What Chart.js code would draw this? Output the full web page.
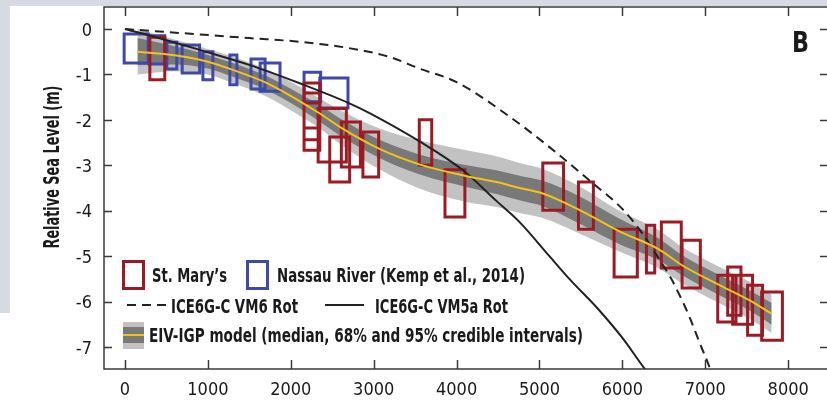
<!DOCTYPE html>
<html>
<head>
<meta charset="utf-8">
<script src="https://cdn.jsdelivr.net/npm/chart.js@4.4.1/dist/chart.umd.min.js"></script>
<style>
  html, body { margin: 0; padding: 0; background: #fff; overflow: hidden; width: 827px; height: 404px; }
  #frameTop  { position: absolute; left: 0; top: 0; width: 827px; height: 6px; background: #d6dbe3; }
  #frameLeft { position: absolute; left: 0; top: 0; width: 10px; height: 313px; background: #d6dbe3; }
  #wrap { position: absolute; left: 0; top: 0; width: 832px; height: 404px; }
</style>
</head>
<body>
<div id="frameTop"></div>
<div id="frameLeft"></div>
<div id="wrap"><canvas id="chart" width="832" height="404"></canvas></div>
<script>
// Panell B: nivell relatiu del mar (m) vs edat (anys)

// ── Dades ────────────────────────────────────────────────────────────────────
const xTickValues = [0, 1000, 2000, 3000, 4000, 5000, 6000, 7000, 8000];
const yTickValues = [-7, -6, -5, -4, -3, -2, -1, 0];

// EIV-IGP: mediana i intervals creïbles del 68% i 95%
const modelAge    = [150, 600, 1000, 1300, 1700, 2100, 2350, 2630, 3070, 3550, 4120, 4480, 4760, 5040, 5480, 5960, 6440, 6720, 7130, 7530, 7800];
const modelMedian = [-0.50, -0.58, -0.72, -0.90, -1.18, -1.58, -1.86, -2.20, -2.64, -2.98, -3.24, -3.37, -3.50, -3.62, -3.98, -4.45, -4.85, -5.20, -5.60, -5.97, -6.27];
const modelHi68   = [-0.20, -0.38, -0.57, -0.75, -1.03, -1.42, -1.68, -2.01, -2.44, -2.76, -3.00, -3.11, -3.23, -3.34, -3.68, -4.17, -4.61, -4.98, -5.38, -5.75, -6.03];
const modelLo68   = [-0.80, -0.78, -0.87, -1.05, -1.33, -1.74, -2.04, -2.39, -2.84, -3.20, -3.48, -3.63, -3.77, -3.90, -4.28, -4.73, -5.09, -5.42, -5.82, -6.19, -6.51];
const modelHi95   = [ 0.00, -0.23, -0.44, -0.61, -0.88, -1.26, -1.53, -1.82, -2.19, -2.45, -2.67, -2.80, -2.95, -3.08, -3.46, -4.00, -4.43, -4.80, -5.20, -5.56, -5.85];
const modelLo95   = [-1.00, -0.93, -1.00, -1.19, -1.48, -1.90, -2.19, -2.58, -3.09, -3.51, -3.81, -3.92, -4.05, -4.16, -4.50, -4.90, -5.27, -5.60, -6.00, -6.38, -6.69];

// Models GIA
const vm6Age  = [0, 900, 1500, 2100, 2700, 3200, 3550, 4000, 4640, 5120, 5600, 6020, 6240, 6420, 6590, 6690, 6810, 6930, 7050, 7090];
const vm6Rsl  = [0, -0.12, -0.20, -0.28, -0.42, -0.62, -0.87, -1.17, -1.93, -2.60, -3.33, -4.00, -4.50, -5.00, -5.50, -5.86, -6.34, -6.90, -7.44, -7.65];
const vm5aAge = [0, 450, 900, 1500, 2100, 2700, 2950, 3550, 4070, 4490, 4760, 5120, 5360, 5720, 6000, 6265, 6300];
const vm5aRsl = [0, -0.22, -0.46, -0.79, -1.19, -1.63, -1.85, -2.47, -3.10, -3.80, -4.25, -5.00, -5.50, -6.19, -6.80, -7.47, -7.55];

// Índexs de nivell del mar: [edat mín, edat màx, RSL superior, RSL inferior]
const stMarysBoxes = [
  [300, 480, -0.18, -1.12],
  [2160, 2350, -1.19, -2.18],
  [2160, 2350, -1.41, -2.44],
  [2160, 2350, -1.63, -2.67],
  [2330, 2670, -1.75, -2.93],
  [2470, 2710, -2.38, -3.37],
  [2610, 2840, -2.05, -3.04],
  [2870, 3060, -2.27, -3.26],
  [3550, 3700, -2.00, -3.00],
  [3860, 4100, -3.10, -4.14],
  [5040, 5290, -2.95, -3.99],
  [5470, 5650, -3.37, -4.41],
  [5900, 6180, -4.41, -5.46],
  [6290, 6390, -4.32, -5.37],
  [6470, 6710, -4.25, -5.26],
  [6720, 6940, -4.65, -5.70],
  [7150, 7370, -5.42, -6.45],
  [7270, 7430, -5.24, -6.30],
  [7330, 7570, -5.42, -6.50],
  [7510, 7690, -5.64, -6.74],
  [7680, 7930, -5.79, -6.85],
];
const nassauBoxes = [
  [-10, 280, -0.11, -0.75],
  [290, 480, -0.15, -0.77],
  [505, 625, -0.29, -0.88],
  [690, 900, -0.35, -0.97],
  [940, 1060, -0.50, -1.12],
  [1265, 1350, -0.57, -1.23],
  [1520, 1690, -0.66, -1.32],
  [1630, 1870, -0.75, -1.37],
  [2160, 2360, -0.95, -1.60],
  [2350, 2690, -1.08, -1.74],
];

const legendLabels = [
  "St. Mary\u2019s",
  'Nassau River (Kemp et al., 2014)',
  'ICE6G-C VM6 Rot',
  'ICE6G-C VM5a Rot',
  'EIV-IGP model (median, 68% and 95% credible intervals)',
];
const yTitle = 'Relative Sea Level (m)';
const panelLetter = 'B';

// ── Estil ────────────────────────────────────────────────────────────────────
const FONT = '"Liberation Sans Narrow", "DejaVu Sans Condensed", "Liberation Sans", sans-serif';
const COLORS = {
  red:    '#9b1b24',
  blue:   '#3f49a9',
  light:  '#c2c2c2',
  dark:   '#797979',
  yellow: '#f2c318',
  black:  '#222222',
  axis:   '#3a3a3a',
  text:   '#1a1a1a',
};

const pts = (xs, ys) => xs.map((x, i) => ({ x, y: ys[i] }));

// Cada caixa com a polilínia tancada; y null talla el traç entre caixes
function boxOutlines(boxes) {
  const out = [];
  boxes.forEach(([a0, a1, r0, r1]) => {
    out.push({ x: a0, y: r0 }, { x: a1, y: r0 }, { x: a1, y: r1 }, { x: a0, y: r1 }, { x: a0, y: r0 }, { x: a0, y: null });
  });
  return out;
}

// Text ajustat a una amplada fixa (la font condensada original no hi és)
function fitText(ctx, text, x, y, w, rot) {
  const m = ctx.measureText(text).width;
  ctx.save();
  ctx.translate(x, y);
  if (rot) ctx.rotate(rot);
  ctx.scale(w / m, 1);
  ctx.fillText(text, 0, 0);
  ctx.restore();
}

// ── Marc, marques interiors, llegenda i rètols ──────────────────────────────
const decor = {
  id: 'decor',
  afterDatasetsDraw(chart) {
    const { ctx, chartArea: a, scales: { x, y } } = chart;
    ctx.save();
    ctx.strokeStyle = COLORS.axis;
    ctx.lineWidth = 1.5;
    ctx.strokeRect(a.left, a.top, a.right - a.left, a.bottom - a.top);
    ctx.beginPath();
    x.ticks.forEach(t => {
      const px = Math.round(x.getPixelForValue(t.value)) + 0.5;
      ctx.moveTo(px, a.bottom); ctx.lineTo(px, a.bottom - 9);
      ctx.moveTo(px, a.top);    ctx.lineTo(px, a.top + 9);
    });
    y.ticks.forEach(t => {
      const py = Math.round(y.getPixelForValue(t.value)) + 0.5;
      ctx.moveTo(a.left, py);  ctx.lineTo(a.left + 8, py);
      ctx.moveTo(a.right, py); ctx.lineTo(a.right - 8, py);
    });
    ctx.stroke();

    // Llegenda
    ctx.lineWidth = 3;
    ctx.strokeStyle = COLORS.red;
    ctx.strokeRect(123.5, 261.5, 20, 27);
    ctx.strokeStyle = COLORS.blue;
    ctx.strokeRect(247.5, 261.5, 20, 27);

    ctx.lineWidth = 2;
    ctx.strokeStyle = COLORS.black;
    ctx.setLineDash([9, 6]);
    ctx.beginPath(); ctx.moveTo(127, 305); ctx.lineTo(168, 305); ctx.stroke();
    ctx.setLineDash([]);
    ctx.beginPath(); ctx.moveTo(325, 305); ctx.lineTo(364, 305); ctx.stroke();

    ctx.fillStyle = COLORS.light;  ctx.fillRect(123, 322, 21, 27);
    ctx.fillStyle = COLORS.dark;   ctx.fillRect(123, 327, 21, 16);
    ctx.fillStyle = COLORS.yellow; ctx.fillRect(123, 334, 21, 2);

    ctx.fillStyle = COLORS.text;
    ctx.font = `bold 19px ${FONT}`;
    ctx.textBaseline = 'alphabetic';
    ctx.textAlign = 'left';
    fitText(ctx, legendLabels[0], 152, 282, 75);
    fitText(ctx, legendLabels[1], 277, 282, 248);
    fitText(ctx, legendLabels[2], 171, 313, 127);
    fitText(ctx, legendLabels[3], 375, 313, 133);
    fitText(ctx, legendLabels[4], 149, 342, 434);

    // Títol de l'eix Y i lletra del panell
    ctx.font = `bold 21px ${FONT}`;
    ctx.textAlign = 'center';
    fitText(ctx, yTitle, 59, 167, 163, -Math.PI / 2);
    ctx.font = `bold 28px ${FONT}`;
    ctx.textAlign = 'left';
    fitText(ctx, panelLetter, 792, 52, 17);
    ctx.restore();
  }
};

const tickFont = { family: FONT, size: 18 };

new Chart(document.getElementById('chart'), {
  type: 'line',
  data: {
    datasets: [
      { data: pts(modelAge, modelHi95), fill: '+1', backgroundColor: COLORS.light, borderColor: 'transparent', borderWidth: 0, order: 10 },
      { data: pts(modelAge, modelLo95), fill: false, borderColor: 'transparent', borderWidth: 0, order: 10 },
      { data: pts(modelAge, modelHi68), fill: '+1', backgroundColor: COLORS.dark, borderColor: 'transparent', borderWidth: 0, order: 9 },
      { data: pts(modelAge, modelLo68), fill: false, borderColor: 'transparent', borderWidth: 0, order: 9 },
      { data: boxOutlines(stMarysBoxes), borderColor: COLORS.red, borderWidth: 3, tension: 0, cubicInterpolationMode: 'default', borderJoinStyle: 'miter', borderCapStyle: 'square', order: 6 },
      { data: boxOutlines(nassauBoxes), borderColor: COLORS.blue, borderWidth: 3, tension: 0, cubicInterpolationMode: 'default', borderJoinStyle: 'miter', borderCapStyle: 'square', order: 6 },
      { data: pts(vm6Age, vm6Rsl), borderColor: COLORS.black, borderWidth: 2, borderDash: [9, 6], order: 4 },
      { data: pts(vm5aAge, vm5aRsl), borderColor: COLORS.black, borderWidth: 2, order: 4 },
      { data: pts(modelAge, modelMedian), borderColor: COLORS.yellow, borderWidth: 2, order: 3 },
    ]
  },
  options: {
    responsive: false,
    animation: false,
    devicePixelRatio: 1,
    layout: { padding: { left: 0, right: 4, top: 7, bottom: 0 } },
    elements: {
      point: { radius: 0, hoverRadius: 0 },
      line: { cubicInterpolationMode: 'monotone', fill: false },
    },
    plugins: { legend: { display: false }, tooltip: { enabled: false }, title: { display: false } },
    scales: {
      x: {
        type: 'linear', position: 'bottom', min: -253, max: 8480,
        grid: { display: false, drawTicks: false }, border: { display: false },
        ticks: { autoSkip: false, maxRotation: 0, padding: 11,
                 font: tickFont, color: COLORS.text, callback: v => String(v) },
        afterBuildTicks: s => { s.ticks = xTickValues.map(value => ({ value })); },
        afterFit: s => { s.height = 35; s.paddingLeft = 0; s.paddingRight = 0; },
      },
      y: {
        type: 'linear', position: 'left', min: -7.484, max: 0.484,
        grid: { display: false, drawTicks: false }, border: { display: false },
        ticks: { autoSkip: false, padding: 12, labelOffset: 2,
                 font: tickFont, color: COLORS.text, callback: v => String(v) },
        afterBuildTicks: s => { s.ticks = yTickValues.map(value => ({ value })); },
        afterFit: s => { s.width = 104; s.paddingTop = 0; s.paddingBottom = 0; },
      },
    },
  },
  plugins: [decor],
});
</script>
</body>
</html>
